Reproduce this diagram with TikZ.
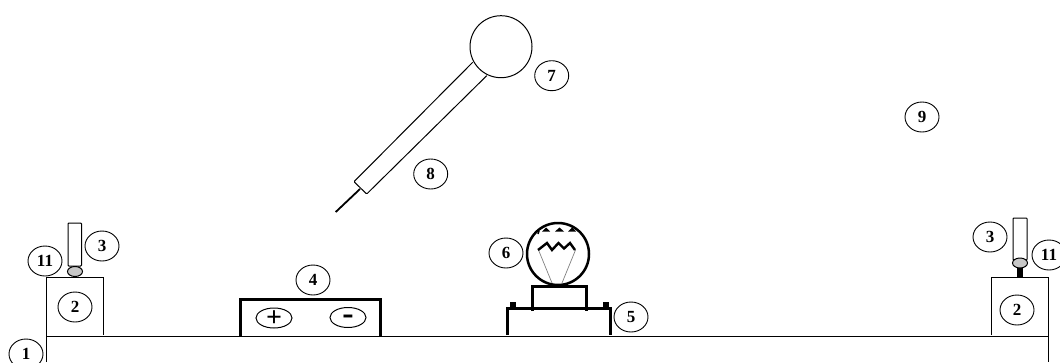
\documentclass[tikz,border=0pt]{standalone}
\usepackage{fontspec}
\setmainfont{Liberation Serif}
\usetikzlibrary{shapes.geometric}
\tikzset{
  x=1pt,y=-1pt,
  num/.style={draw,ellipse,line width=0.9pt,minimum width=34pt,minimum height=30pt,inner sep=0pt,font=\fontsize{17}{18}\selectfont\bfseries},
  thin line/.style={line width=0.9pt},
  heavy/.style={line width=3pt},
  gray ball/.style={draw,ellipse,fill=black!22,line width=1pt,minimum width=15pt,minimum height=10pt,inner sep=0pt},
  sign/.style={draw,ellipse,line width=1pt,minimum width=36pt,minimum height=20pt,inner sep=0pt,font=\fontsize{28}{28}\selectfont\bfseries},
  minus sign/.style={sign,font=\fontsize{34}{34}\selectfont\bfseries},
}
\begin{document}
\begin{tikzpicture}
\useasboundingbox (0,0) rectangle (1060,362);
\clip (0,0) rectangle (1060,362);
% base
\draw[thin line] (46,362) -- (46,277) -- (103,277) -- (103,335);
\draw[thin line] (46,336) -- (1048,336);
\draw[thin line] (991,335) -- (991,277) -- (1048,277) -- (1048,362);
% left post
\draw[line width=1pt,rounded corners=0.8pt] (68,266) rectangle (81.5,223);
\node[gray ball] (ballL) at (75,271.5) {};
% right post
\draw[line width=6pt] (1020,266) -- (1020,277);
\draw[line width=1pt,rounded corners=0.8pt] (1013,260) rectangle (1027,218);
\node[gray ball] (ballR) at (1020,263) {};
% battery
\draw[heavy] (240.5,336) -- (240.5,299.5) -- (380,299.5) -- (380,336);
\node[sign] (plus) at (274,318) {\raisebox{-8.7pt}[0pt][0pt]{+}};
\node[minus sign] (minus) at (348,317.5) {\raisebox{-7pt}[0pt][0pt]{-}};
% lamp stand
\draw[heavy] (507,335) -- (507,308.5) -- (610,308.5) -- (610,335);
\draw[heavy] (532,311) -- (532,286.5) -- (586.5,286.5) -- (586.5,311);
\draw[line width=6pt] (513,302) -- (513,308);
\draw[line width=6pt] (606,302) -- (606,308);
% lamp
\node[draw,circle,line width=2.5pt,minimum size=62pt,inner sep=0pt] (lamp) at (558,254) {};
\draw[line width=0.7pt,black!50] (538.5,250) -- (552,283);
\draw[line width=0.7pt,black!50] (575.5,250) -- (562,283);
\draw[line width=2.4pt] (538,250) -- (547,243) -- (552,250) -- (558.5,243) -- (564,248.5) -- (570,243) -- (575,250);
\draw[line width=1.5pt] (538,234) -- (539,231);
\fill (542,231.5) -- (546,227.5) -- (550,231.5) -- cycle;
\fill (555,231.5) -- (559.5,227.5) -- (564,231.5) -- cycle;
\fill (568,231.5) -- (572,227.5) -- (576,231.5) -- cycle;
% probe
\node[draw,circle,line width=1pt,minimum size=62pt,inner sep=0pt] (ball) at (501,46.7) {};
\draw[line width=1pt,rounded corners=0.8pt] (472.7,62.3) -- (354,181.7) -- (366.7,194) -- (486.7,75.7);
\coordinate (wireTop) at (360,189);
\coordinate (wireEnd) at (335.7,212);
\draw[line width=1.8pt] (wireTop) -- (wireEnd);
% labels
\node[num] (n1) at (26,354) {1};
\node[num] (n2L) at (75,307) {2};
\node[num] (n3L) at (102,246) {3};
\node[num] (n11L) at (45,261) {11};
\node[num] (n2R) at (1017,310) {2};
\node[num] (n3R) at (990,237) {3};
\node[num] (n11R) at (1049,255) {11};
\node[num] (n4) at (313,280) {4};
\node[num] (n5) at (631,317) {5};
\node[num] (n6) at (506,253) {6};
\node[num] (n7) at (551.7,75.7) {7};
\node[num] (n8) at (430.7,174) {8};
\node[num] (n9) at (922,117) {9};
\end{tikzpicture}
\end{document}
